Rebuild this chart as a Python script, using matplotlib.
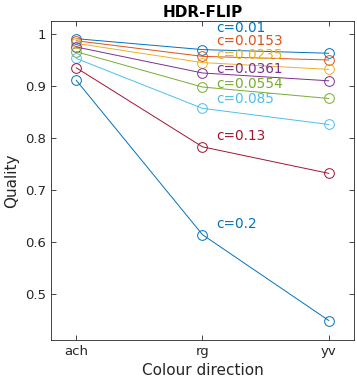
import numpy as np
import matplotlib
matplotlib.use('Agg')
import matplotlib.pyplot as plt

directions = ['ach', 'rg', 'yv']
contrasts = ['0.01', '0.0153', '0.0235', '0.0361', '0.0554', '0.085', '0.13', '0.2']
quality = [
    [0.991, 0.970, 0.963],
    [0.987, 0.957, 0.950],
    [0.982, 0.945, 0.932],
    [0.975, 0.925, 0.910],
    [0.966, 0.898, 0.876],
    [0.953, 0.857, 0.826],
    [0.935, 0.783, 0.732],
    [0.911, 0.614, 0.449],
]
colors = ['#0072BD', '#D95319', '#EDB120', '#7E2F8E', '#77AC30', '#4DBEEE', '#A2142F', '#0072BD']
# label heights (data units) next to the rg points
label_y = [1.0106, 0.986, 0.959, 0.932, 0.903, 0.875, 0.803, 0.634]

tc = '#262626'
plt.rcParams['font.family'] = 'DejaVu Sans'
plt.rcParams['font.size'] = 9.5

fig = plt.figure(figsize=(3.57, 3.83), dpi=100)
ax = fig.add_axes([51/357, 1 - 340/383, 303/357, 319/383])

x = np.arange(1, len(directions) + 1)
for q, c, lab, ly in zip(quality, colors, contrasts, label_y):
    ax.plot(x, q, '-o', color=c, lw=0.7, ms=7, mfc='none', mew=0.7)
    ax.text(2.108, ly, 'c=' + lab, color=c, va='center', ha='left', fontsize=9.8)

ax.set_xlim(0.8, 3.2)
ax.set_ylim(0.4115, 1.025)
ax.set_xticks(x)
ax.set_xticklabels(directions)
ax.set_yticks([0.5, 0.6, 0.7, 0.8, 0.9, 1.0])
ax.set_yticklabels(['0.5', '0.6', '0.7', '0.8', '0.9', '1'])
ax.tick_params(direction='in', top=True, right=True, colors=tc, labelcolor=tc,
               length=3.5, width=0.6, labelsize=9.5)
for s in ax.spines.values():
    s.set_color(tc)
    s.set_linewidth(0.6)
ax.set_xlabel('Colour direction', color=tc, fontsize=11)
ax.set_ylabel('Quality', color=tc, fontsize=11)
ax.set_title('HDR-FLIP', fontweight='bold', color='black', fontsize=11, pad=3)

fig.savefig('out.png', dpi=100)
